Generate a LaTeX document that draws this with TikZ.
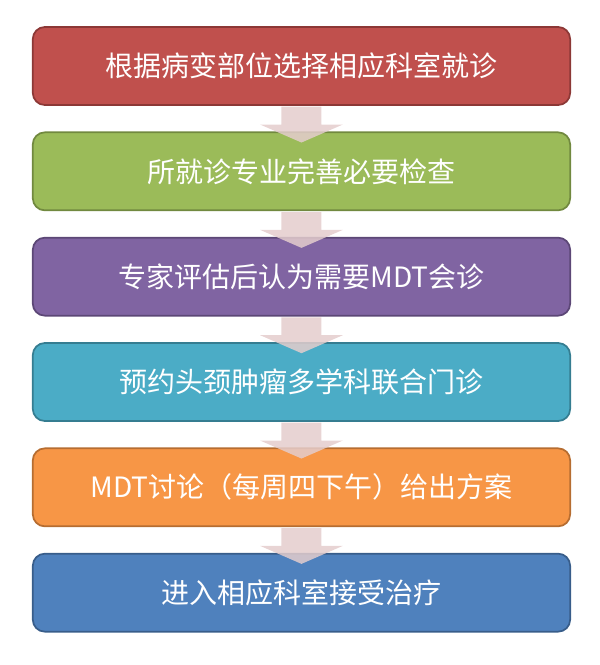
\documentclass[tikz,border=0pt]{standalone}
\usepackage{fontspec}
\setmainfont{Noto Sans CJK SC}
\usepackage{tikz}
\usetikzlibrary{calc, shapes, positioning}
\tikzset{
    stepnode/.style = {draw, rectangle, rounded corners=9pt, line width=1.3pt, text=white,
      minimum width=403pt, minimum height=58.5pt, inner sep=0em, node distance=0em,
      font=\fontsize{21}{25}\selectfont},
    arrowfill/.style = {fill=arw, fill opacity=0.85, draw=none}
}
\definecolor{redf}{HTML}{C0504D}  \definecolor{redd}{HTML}{8C3836}
\definecolor{grnf}{HTML}{9BBB59}  \definecolor{grnd}{HTML}{71893F}
\definecolor{purf}{HTML}{8064A2}  \definecolor{purd}{HTML}{5C4776}
\definecolor{tealf}{HTML}{4BACC6} \definecolor{teald}{HTML}{357D91}
\definecolor{orgf}{HTML}{F79646}  \definecolor{orgd}{HTML}{B66D31}
\definecolor{bluf}{HTML}{4F81BD}  \definecolor{blud}{HTML}{385D8A}
\definecolor{arw}{RGB}{228, 205, 205}
\begin{document}
\begin{tikzpicture}
\useasboundingbox (0,0) rectangle (450pt,-498.75pt);

\node[stepnode, name=s1, fill=redf, draw=redd] at (226.1pt,-49.5pt) {根据病变部位选择相应科室就诊};

\node[stepnode, name=s2, below of = s1, yshift=-79pt, fill=grnf, draw=grnd] {所就诊专业完善必要检查};

\node[stepnode, name=s3, below of = s2, yshift=-79pt, fill=purf, draw=purd] {专家评估后认为需要MDT会诊};

\node[stepnode, name=s4, below of = s3, yshift=-79pt, fill=tealf, draw=teald] {预约头颈肿瘤多学科联合门诊};

\node[stepnode, name=s5, below of = s4, yshift=-79pt, fill=orgf, draw=orgd] {MDT讨论（每周四下午）给出方案};

\node[stepnode, name=s6, below of = s5, yshift=-79pt, fill=bluf, draw=blud] {进入相应科室接受治疗};

% block arrows between the steps
\foreach \a in {s1, s2, s3, s4, s5}
  \fill[arrowfill] ($(\a.south)+(-15pt,-0.65pt)$) -- ($(\a.south)+(-15pt,-14pt)$)
    -- ($(\a.south)+(-31pt,-14pt)$) -- ($(\a.south)+(0pt,-27.5pt)$)
    -- ($(\a.south)+(31pt,-14pt)$) -- ($(\a.south)+(15pt,-14pt)$)
    -- ($(\a.south)+(15pt,-0.65pt)$) -- cycle;
\end{tikzpicture}
\end{document}
